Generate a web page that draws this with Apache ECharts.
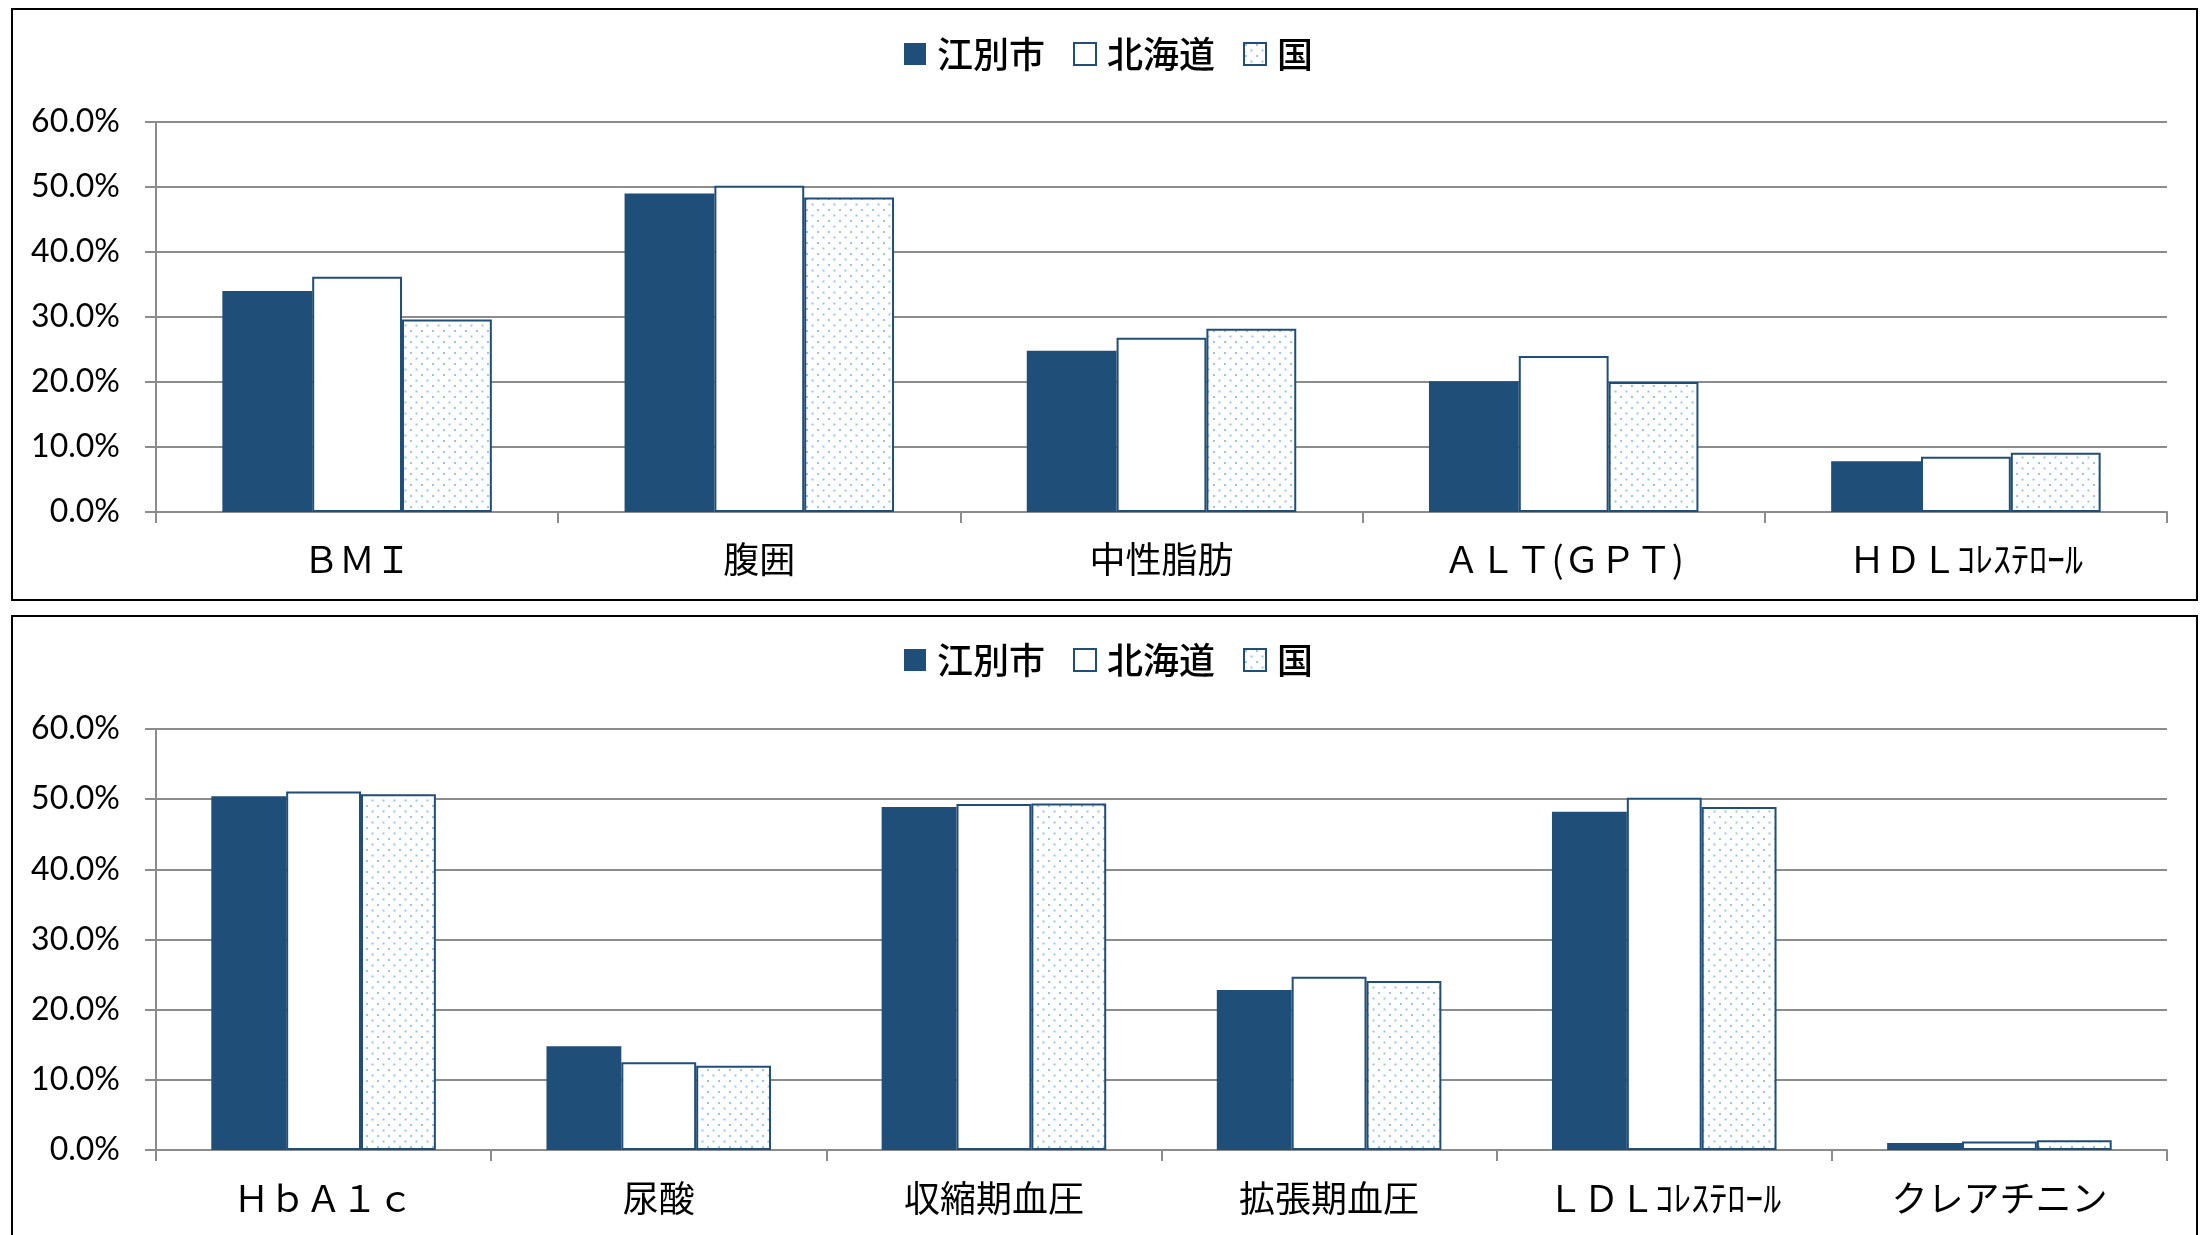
<!DOCTYPE html>
<html>
<head>
<meta charset="utf-8">
<script src="https://cdn.jsdelivr.net/npm/echarts@6/dist/echarts.min.js"></script>
<style>
  body { margin: 0; background: #fff; width: 2206px; height: 1235px; overflow: hidden; position: relative; }
  .panel { position: absolute; left: 11px; width: 2183px; border: 2px solid #000; background: #fff; }
  #top { top: 8px; height: 589px; }
  #bottom { top: 615px; height: 696px; }
</style>
</head>
<body>
<div class="panel" id="top"></div>
<div class="panel" id="bottom"></div>
<script>
// 上段
var cats1 = ['ＢＭＩ', '腹囲', '中性脂肪', 'ＡＬＴ(ＧＰＴ)', 'ＨＤＬｺﾚｽﾃﾛｰﾙ']
var ebetsu1 = [34.0, 49.0, 24.8, 20.1, 7.8]
var hokkaido1 = [36.2, 50.2, 26.8, 24.0, 8.5]
var kuni1 = [29.6, 48.4, 28.2, 20.0, 9.1]
// 下段
var cats2 = ['ＨｂＡ１ｃ', '尿酸', '収縮期血圧', '拡張期血圧', 'ＬＤＬｺﾚｽﾃﾛｰﾙ', 'クレアチニン']
var ebetsu2 = [50.4, 14.8, 48.9, 22.8, 48.2, 1.0]
var hokkaido2 = [51.1, 12.5, 49.3, 24.7, 50.2, 1.2]
var kuni2 = [50.7, 12.0, 49.4, 24.1, 48.9, 1.4]
var seriesNames = ['江別市', '北海道', '国']
var yMin = 0, yMax = 60, yStep = 10

var navy = '#1f4e79'
var gray = '#8c8c8c'

// 国のドット模様
function dotPattern() {
    var c = document.createElement('canvas')
    c.width = 11
    c.height = 11
    var ctx = c.getContext('2d')
    ctx.fillStyle = '#fff'
    ctx.fillRect(0, 0, 11, 11)
    ctx.fillStyle = '#9ec3e8'
    ctx.fillRect(1, 1, 2, 2)
    ctx.fillRect(6.5, 6.5, 2, 2)
    return c
}
var pattern = { image: dotPattern(), repeat: 'repeat' }

function makeOption(cats, a, b, c, legendTop, gridTop, gridBottom, labelMargin) {
    return {
        animation: false,
        legend: {
            data: seriesNames,
            icon: 'rect',
            top: legendTop,
            left: 886,
            itemWidth: 22,
            itemHeight: 22,
            itemGap: 28,
            textStyle: { fontFamily: 'Noto Sans CJK JP', fontSize: 36, fontWeight: 500, color: '#000', lineHeight: 40, padding: [0, 0, 0, 6] }
        },
        grid: { left: 143, right: 29, top: gridTop, bottom: gridBottom },
        xAxis: {
            type: 'category',
            data: cats,
            axisLine: { lineStyle: { color: gray, width: 2 } },
            axisTick: { show: true, length: 11, lineStyle: { color: gray, width: 2 } },
            axisLabel: { fontFamily: 'Noto Sans CJK JP', fontSize: 36, color: '#000', margin: labelMargin, interval: 0 }
        },
        yAxis: {
            type: 'value',
            min: yMin,
            max: yMax,
            interval: yStep,
            axisLine: { show: true, lineStyle: { color: gray, width: 2 } },
            axisTick: { show: true, length: 11, lineStyle: { color: gray, width: 2 } },
            axisLabel: {
                fontFamily: 'Lato', fontSize: 32, color: '#000', margin: 36,
                formatter: function (v) { return v.toFixed(1) + '%' }
            },
            splitLine: { lineStyle: { color: gray, width: 2 } }
        },
        series: [
            { name: seriesNames[0], type: 'bar', data: a, barGap: '0%', barCategoryGap: '33%',
              itemStyle: { color: navy } },
            { name: seriesNames[1], type: 'bar', data: b,
              itemStyle: { color: '#fff', borderColor: navy, borderWidth: 2 } },
            { name: seriesNames[2], type: 'bar', data: c,
              itemStyle: { color: pattern, borderColor: navy, borderWidth: 2 } }
        ]
    }
}

var topChart = echarts.init(document.getElementById('top'))
topChart.setOption(makeOption(cats1, ebetsu1, hokkaido1, kuni1, 19, 112, 87, 29))

var bottomChart = echarts.init(document.getElementById('bottom'))
bottomChart.setOption(makeOption(cats2, ebetsu2, hokkaido2, kuni2, 18, 112, 163, 30))
</script>
</body>
</html>
